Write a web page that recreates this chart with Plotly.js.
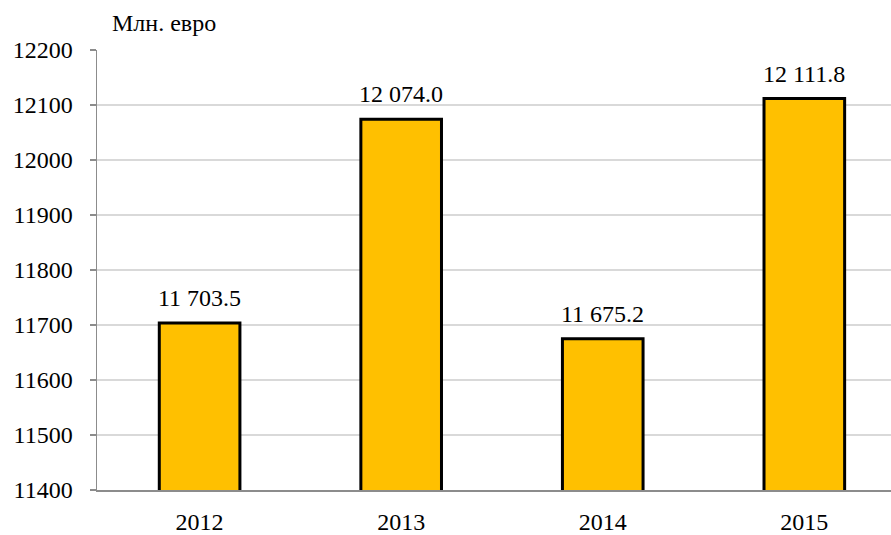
<!DOCTYPE html>
<html><head><meta charset="utf-8">
<script src="https://cdn.plot.ly/plotly-3.0.1.min.js"></script>
<style>html,body{margin:0;padding:0;background:#fff}#chart{width:891px;height:535px}</style>
</head><body><div id="chart"></div>
<script>
const years = ['2012', '2013', '2014', '2015'];
const values = [11703.5, 12074.0, 11675.2, 12111.8];
const yTitle = 'Млн. евро';

function fmt(v) {
  const s = v.toFixed(1);
  const parts = s.split('.');
  return parts[0].replace(/\B(?=(\d{3})+(?!\d))/g, ' ') + '.' + parts[1];
}

function F() { return {family: 'Liberation Serif, DejaVu Serif, serif', size: 24, color: '#000'}; }

const trace = {
  type: 'bar', x: years, y: values, width: 0.40,
  marker: {color: '#FFC000', line: {color: '#000', width: 3}},
  hoverinfo: 'none'
};

const annotations = years.map((c, i) => ({
  x: i, y: values[i], xref: 'x', yref: 'y', text: fmt(values[i]), showarrow: false,
  xanchor: 'center', yanchor: 'bottom', yshift: 10, font: F()
}));
annotations.push({
  xref: 'paper', yref: 'paper', x: 0.017, y: 1, xanchor: 'left', yanchor: 'bottom',
  yshift: 12, text: yTitle, showarrow: false, font: F()
});

const layout = {
  width: 891, height: 535,
  margin: {l: 97, r: 0, t: 50, b: 45},
  paper_bgcolor: '#fff', plot_bgcolor: '#fff',
  font: F(), showlegend: false,
  xaxis: {
    type: 'category', range: [-0.509, 3.43],
    showline: true, linecolor: '#8c8c8c', linewidth: 1.5,
    ticks: '', showgrid: false, tickfont: F(), ticklabelstandoff: 10
  },
  yaxis: {
    range: [11400, 12200], dtick: 100, tick0: 11400, tickformat: 'd',
    showline: true, linecolor: '#8c8c8c', linewidth: 1.5,
    ticks: 'outside', ticklen: 6, tickcolor: '#8c8c8c', tickwidth: 1.5,
    showgrid: true, gridcolor: '#d9d9d9', gridwidth: 1.5,
    tickfont: F(), ticklabelstandoff: 12, zeroline: false
  },
  annotations: annotations
};

Plotly.newPlot('chart', [trace], layout, {displayModeBar: false, staticPlot: true});
</script></body></html>
